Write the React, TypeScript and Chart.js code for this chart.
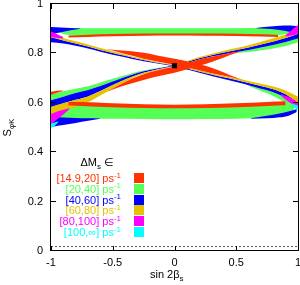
import React, { useEffect, useRef } from 'react';
import { Chart, registerables } from 'chart.js';
Chart.register(...registerables);

// ---- axes ----
const xTicks = [-1, -0.5, 0, 0.5, 1];
const xTickLabels = ['-1', '-0.5', '0', '0.5', '1'];
const yTicks = [0, 0.2, 0.4, 0.6, 0.8, 1];
const yTickLabels = ['0', '0.2', '0.4', '0.6', '0.8', '1'];

// ---- legend ----
const legendRanges = ['[14.9,20]', '[20,40]', '[40,60]', '[60,80]', '[80,100]', '[100,\u221e]'];
const RED = '#ff3300';
const GREEN = '#55ff55';
const BLUE = '#0000ff';
const YELLOW = '#e6c300';
const MAGENTA = '#ff00ff';
const CYAN = '#00ffff';
const legendColors = [RED, GREEN, BLUE, YELLOW, MAGENTA, CYAN];

// ---- reference marks ----
const refLineX = [-1, 1];
const refLineY = [0.018, 0.018];
const smPointX = [0];
const smPointY = [0.75];

// ---- top horizontal band ----
const topBandX = [-0.93, -0.85, -0.7, -0.5, -0.25, 0, 0.25, 0.5, 0.7, 0.85, 0.95];
const topGreenHi = [0.897, 0.901, 0.902, 0.902, 0.902, 0.902, 0.902, 0.902, 0.903, 0.903, 0.898];
const topGreenLo = [0.884, 0.874, 0.871, 0.872, 0.873, 0.873, 0.873, 0.872, 0.871, 0.874, 0.884];
const topRedX = [-0.86, -0.7, -0.5, -0.25, 0, 0.25, 0.5, 0.7, 0.84];
const topRedHi = [0.872, 0.876, 0.879, 0.881, 0.881, 0.881, 0.88, 0.878, 0.875];
const topRedLo = [0.864, 0.866, 0.869, 0.871, 0.872, 0.871, 0.87, 0.868, 0.866];

// ---- bottom horizontal band ----
const botBandX = [-0.97, -0.9, -0.75, -0.5, -0.25, 0, 0.25, 0.5, 0.75, 0.9, 0.97];
const botGreenHi = [0.595, 0.598, 0.598, 0.594, 0.59, 0.59, 0.59, 0.594, 0.598, 0.6, 0.6];
const botGreenLo = [0.52, 0.527, 0.533, 0.535, 0.534, 0.533, 0.534, 0.535, 0.54, 0.55, 0.565];
const botRedX = [-0.86, -0.75, -0.5, -0.25, 0, 0.25, 0.5, 0.75, 0.9];
const botRedHi = [0.603, 0.603, 0.598, 0.594, 0.592, 0.594, 0.598, 0.603, 0.606];
const botRedLo = [0.59, 0.587, 0.582, 0.579, 0.578, 0.579, 0.582, 0.587, 0.59];

// ---- blue wedges at the band ends ----
const tlBlueX = [-1, -0.92, -0.84, -0.76];
const tlBlueHi = [0.907, 0.905, 0.903, 0.901];
const tlBlueLo = [0.878, 0.886, 0.894, 0.9];
const trBlueX = [0.66, 0.75, 0.85, 0.93, 1];
const trBlueHi = [0.903, 0.908, 0.912, 0.913, 0.91];
const trBlueLo = [0.902, 0.9, 0.895, 0.888, 0.878];
const blBlueX = [-0.99, -0.9, -0.8, -0.7, -0.6];
const blBlueHi = [0.545, 0.54, 0.538, 0.537, 0.536];
const blBlueLo = [0.503, 0.51, 0.518, 0.527, 0.535];
const brBlueX = [0.62, 0.75, 0.85, 0.93, 0.99];
const brBlueHi = [0.537, 0.548, 0.557, 0.566, 0.575];
const brBlueLo = [0.535, 0.537, 0.541, 0.549, 0.563];

// ---- ascending branch, left half ----
const alX = [-1, -0.9, -0.8, -0.7, -0.6, -0.5, -0.4, -0.3, -0.2, -0.1, 0];
const alGreenHi = [0.635, 0.647, 0.657, 0.667, 0.682, 0.697, 0.712, 0.726, 0.736, 0.744, 0.752];
const alBlueHi = [0.61, 0.625, 0.64, 0.652, 0.668, 0.686, 0.704, 0.721, 0.733, 0.742, 0.751];
const alYellowHi = [0.583, 0.598, 0.612, 0.626, 0.648, 0.672, 0.694, 0.714, 0.728, 0.739, 0.749];
const alYellowLo = [0.55, 0.565, 0.585, 0.603, 0.63, 0.658, 0.684, 0.708, 0.724, 0.736, 0.747];

// ---- ascending branch, right half ----
const arX = [0, 0.1, 0.2, 0.3, 0.4, 0.5, 0.6, 0.7, 0.8, 0.9, 1];
const arYellowHi = [0.753, 0.769, 0.785, 0.799, 0.811, 0.822, 0.833, 0.847, 0.861, 0.877, 0.897];
const arLine = [0.75, 0.765, 0.78, 0.793, 0.804, 0.814, 0.824, 0.836, 0.848, 0.862, 0.88];
const arBlueLo = [0.747, 0.761, 0.775, 0.787, 0.797, 0.806, 0.814, 0.824, 0.834, 0.846, 0.86];
const arGreenX = [0.5, 0.6, 0.7, 0.8, 0.9, 1];
const arGreenHi = [0.806, 0.814, 0.824, 0.834, 0.846, 0.86];
const arGreenLo = [0.803, 0.806, 0.813, 0.82, 0.83, 0.845];

// ---- descending branch, left half ----
const dlX = [-1, -0.9, -0.8, -0.7, -0.6, -0.5, -0.4, -0.3, -0.2, -0.1, 0];
const dlYellowHi = [0.885, 0.862, 0.849, 0.836, 0.822, 0.809, 0.796, 0.783, 0.772, 0.762, 0.753];
const dlLine = [0.865, 0.852, 0.84, 0.828, 0.814, 0.802, 0.79, 0.778, 0.768, 0.759, 0.75];
const dlBlueLo = [0.845, 0.84, 0.831, 0.82, 0.807, 0.795, 0.784, 0.773, 0.764, 0.756, 0.747];

// ---- descending branch, right half ----
const drX = [0, 0.1, 0.2, 0.3, 0.4, 0.5, 0.6, 0.7, 0.8, 0.9, 1];
const drYellowHi = [0.753, 0.743, 0.732, 0.72, 0.709, 0.699, 0.688, 0.677, 0.666, 0.65, 0.625];
const drLine = [0.75, 0.739, 0.727, 0.715, 0.703, 0.692, 0.68, 0.668, 0.655, 0.635, 0.6];
const drBlueLo = [0.747, 0.735, 0.722, 0.709, 0.696, 0.684, 0.671, 0.657, 0.643, 0.62, 0.585];
const drGreenX = [0.6, 0.7, 0.8, 0.9, 1];
const drGreenHi = [0.671, 0.657, 0.643, 0.62, 0.585];
const drGreenLo = [0.668, 0.648, 0.628, 0.6, 0.572];

// ---- red crossing (smallest Delta M_s) ----
const bowX = [-0.55, -0.45, -0.35, -0.25, -0.15, 0, 0.15, 0.25, 0.35, 0.45, 0.55];
const bowDHi = [0.8175, 0.8125, 0.809, 0.8025, 0.793, 0.778, 0.7625, 0.75, 0.7325, 0.712, 0.6935];
const bowDLo = [0.8175, 0.8045, 0.791, 0.7785, 0.768, 0.753, 0.7375, 0.726, 0.7145, 0.704, 0.6935];
const bowAHi = [0.644, 0.671, 0.696, 0.716, 0.73, 0.747, 0.768, 0.781, 0.792, 0.8015, 0.81];
const bowALo = [0.644, 0.663, 0.678, 0.692, 0.705, 0.722, 0.743, 0.757, 0.774, 0.7935, 0.81];
const redSliverX = [-1, -0.95, -0.9];
const redSliverHi = [0.645, 0.649, 0.65];
const redSliverLo = [0.633, 0.641, 0.648];

// ---- tips ----
const tlMagX = [-1, -0.95, -0.9];
const tlMagHi = [0.889, 0.878, 0.866];
const tlMagLo = [0.866, 0.862, 0.86];
const trMagX = [0.9, 0.95, 1];
const trMagHi = [0.874, 0.895, 0.915];
const trMagLo = [0.868, 0.872, 0.88];
const blMagX = [-1, -0.95, -0.9, -0.85];
const blMagHi = [0.555, 0.565, 0.572, 0.578];
const blMagLo = [0.51, 0.533, 0.553, 0.574];
const brMagX = [0.86, 0.92, 0.97, 1];
const brMagHi = [0.635, 0.625, 0.612, 0.6];
const brMagLo = [0.63, 0.605, 0.59, 0.582];
const blCyanX = [-1, -0.97, -0.94];
const blCyanHi = [0.515, 0.52, 0.525];
const blCyanLo = [0.498, 0.507, 0.522];
const brCyanX = [0.95, 0.98, 1];
const brCyanHi = [0.597, 0.592, 0.59];
const brCyanLo = [0.59, 0.578, 0.572];

type Layer = { c: string; x: number[]; lo: number[]; hi: number[] };

// drawn bottom -> top
const layers: Layer[] = [
  { c: GREEN, x: topBandX, lo: topGreenLo, hi: topGreenHi },
  { c: GREEN, x: botBandX, lo: botGreenLo, hi: botGreenHi },
  { c: GREEN, x: alX, lo: alBlueHi, hi: alGreenHi },
  { c: GREEN, x: arGreenX, lo: arGreenLo, hi: arGreenHi },
  { c: GREEN, x: drGreenX, lo: drGreenLo, hi: drGreenHi },
  { c: BLUE, x: tlBlueX, lo: tlBlueLo, hi: tlBlueHi },
  { c: BLUE, x: trBlueX, lo: trBlueLo, hi: trBlueHi },
  { c: BLUE, x: blBlueX, lo: blBlueLo, hi: blBlueHi },
  { c: BLUE, x: brBlueX, lo: brBlueLo, hi: brBlueHi },
  { c: BLUE, x: alX, lo: alYellowHi, hi: alBlueHi },
  { c: BLUE, x: arX, lo: arBlueLo, hi: arLine },
  { c: BLUE, x: dlX, lo: dlBlueLo, hi: dlLine },
  { c: BLUE, x: drX, lo: drBlueLo, hi: drLine },
  { c: YELLOW, x: alX, lo: alYellowLo, hi: alYellowHi },
  { c: YELLOW, x: arX, lo: arLine, hi: arYellowHi },
  { c: YELLOW, x: dlX, lo: dlLine, hi: dlYellowHi },
  { c: YELLOW, x: drX, lo: drLine, hi: drYellowHi },
  { c: RED, x: topRedX, lo: topRedLo, hi: topRedHi },
  { c: RED, x: botRedX, lo: botRedLo, hi: botRedHi },
  { c: RED, x: bowX, lo: bowDLo, hi: bowDHi },
  { c: RED, x: bowX, lo: bowALo, hi: bowAHi },
  { c: RED, x: redSliverX, lo: redSliverLo, hi: redSliverHi },
  { c: MAGENTA, x: tlMagX, lo: tlMagLo, hi: tlMagHi },
  { c: MAGENTA, x: trMagX, lo: trMagLo, hi: trMagHi },
  { c: MAGENTA, x: blMagX, lo: blMagLo, hi: blMagHi },
  { c: MAGENTA, x: brMagX, lo: brMagLo, hi: brMagHi },
  { c: CYAN, x: blCyanX, lo: blCyanLo, hi: blCyanHi },
  { c: CYAN, x: brCyanX, lo: brCyanLo, hi: brCyanHi },
];

const FONT = '"Liberation Sans", "DejaVu Sans", Arial, sans-serif';
type Part = { t: string; k?: 'sub' | 'sup' };

function drawRich(ctx: CanvasRenderingContext2D, parts: Part[], x: number, y: number, align: 'left' | 'center' | 'right', color: string, size = 11) {
  const small = Math.round(size * 0.73);
  ctx.save();
  ctx.fillStyle = color;
  ctx.textAlign = 'left';
  ctx.textBaseline = 'alphabetic';
  let w = 0;
  for (const p of parts) {
    ctx.font = `${p.k ? small : size}px ${FONT}`;
    w += ctx.measureText(p.t).width;
  }
  let cx = align === 'right' ? x - w : align === 'center' ? x - w / 2 : x;
  for (const p of parts) {
    ctx.font = `${p.k ? small : size}px ${FONT}`;
    const dy = p.k === 'sub' ? 3 : p.k === 'sup' ? -4.5 : 0;
    ctx.fillText(p.t, cx, y + dy);
    cx += ctx.measureText(p.t).width;
  }
  ctx.restore();
}

const decor = {
  id: 'decor',
  afterDatasetsDraw(chart: any) {
    const { ctx, chartArea: a, scales } = chart;
    const sx = scales.x;
    const sy = scales.y;
    ctx.save();
    ctx.strokeStyle = '#000';
    ctx.lineWidth = 1;
    ctx.beginPath();
    for (const v of xTicks) {
      const px = Math.round(sx.getPixelForValue(v)) + 0.5;
      ctx.moveTo(px, a.bottom);
      ctx.lineTo(px, a.bottom - 5);
      ctx.moveTo(px, a.top);
      ctx.lineTo(px, a.top + 5);
    }
    for (const v of yTicks) {
      const py = Math.round(sy.getPixelForValue(v)) - 0.5;
      ctx.moveTo(a.left, py);
      ctx.lineTo(a.left + 5, py);
      ctx.moveTo(a.right, py);
      ctx.lineTo(a.right - 5, py);
    }
    ctx.stroke();
    ctx.strokeRect(Math.round(a.left) - 0.5, Math.round(a.top) - 0.5, Math.round(a.right - a.left) + 1, Math.round(a.bottom - a.top));
    ctx.restore();

    // legend
    drawRich(ctx, [{ t: '\u0394M' }, { t: 's', k: 'sub' }, { t: ' \u2208' }], a.left + 46, a.top + 162, 'center', '#000');
    legendRanges.forEach((r, i) => {
      const rowTop = a.top + 169 + i * 10.8;
      drawRich(ctx, [{ t: r + ' ps' }, { t: '-1', k: 'sup' }], a.left + 70, rowTop + 9, 'right', legendColors[i]);
      ctx.fillStyle = legendColors[i];
      ctx.fillRect(a.left + 83, Math.round(rowTop), 10, 10);
    });

    // axis titles
    drawRich(ctx, [{ t: 'sin 2\u03b2' }, { t: 's', k: 'sub' }], a.left + 99, 277.5, 'left', '#000');
    ctx.save();
    ctx.translate(11, (a.top + a.bottom) / 2);
    ctx.rotate(-Math.PI / 2);
    drawRich(ctx, [{ t: 'S' }, { t: '\u03c6K', k: 'sub' }], 0, 0, 'center', '#000');
    ctx.restore();
  },
};

function noPad(s: any) {
  s.paddingTop = 0;
  s.paddingBottom = 0;
  s.paddingLeft = 0;
  s.paddingRight = 0;
}

export default function App() {
  const ref = useRef<HTMLCanvasElement>(null);
  useEffect(() => {
    const canvas = ref.current;
    if (!canvas) return;
    const datasets: any[] = [];
    datasets.push({
      data: smPointX.map((x, i) => ({ x, y: smPointY[i] })),
      showLine: false,
      pointStyle: 'rect',
      pointRadius: 3.6,
      hoverRadius: 0,
      backgroundColor: '#000',
      borderWidth: 0,
    });
    datasets.push({
      data: refLineX.map((x, i) => ({ x, y: refLineY[i] })),
      showLine: true,
      borderColor: '#555',
      borderWidth: 1,
      borderDash: [2, 2],
      pointRadius: 0,
      hoverRadius: 0,
      fill: false,
    });
    for (const l of [...layers].reverse()) {
      datasets.push({
        data: l.x.map((x, i) => ({ x, y: l.lo[i] })),
        showLine: true,
        borderWidth: 0,
        pointRadius: 0,
        hoverRadius: 0,
        fill: false,
        cubicInterpolationMode: 'monotone',
      });
      datasets.push({
        data: l.x.map((x, i) => ({ x, y: l.hi[i] })),
        showLine: true,
        borderWidth: 0,
        pointRadius: 0,
        hoverRadius: 0,
        fill: '-1',
        backgroundColor: l.c,
        cubicInterpolationMode: 'monotone',
      });
    }
    const chart = new Chart(canvas, {
      type: 'scatter',
      data: { datasets },
      options: {
        animation: false,
        responsive: false,
        devicePixelRatio: 1,
        events: [],
        layout: { padding: { top: 4, right: 2, left: 0, bottom: 0 }, autoPadding: false } as any,
        plugins: { legend: { display: false }, tooltip: { enabled: false } },
        scales: {
          x: {
            type: 'linear',
            min: -1,
            max: 1,
            afterBuildTicks: (s: any) => { s.ticks = xTicks.map((v) => ({ value: v })); },
            afterFit: (s: any) => { s.height = 34; noPad(s); },
            ticks: {
              callback: (_v: any, i: number) => xTickLabels[i],
              padding: 5,
              maxRotation: 0,
              autoSkip: false,
              color: '#000',
              font: { family: FONT, size: 11 },
            },
            grid: { display: false, drawTicks: false },
            border: { display: false },
          },
          y: {
            type: 'linear',
            min: 0,
            max: 1,
            afterBuildTicks: (s: any) => { s.ticks = yTicks.map((v) => ({ value: v })); },
            afterFit: (s: any) => { s.width = 51; noPad(s); },
            ticks: {
              callback: (_v: any, i: number) => yTickLabels[i],
              padding: 8,
              autoSkip: false,
              color: '#000',
              font: { family: FONT, size: 11 },
            },
            grid: { display: false, drawTicks: false },
            border: { display: false },
          },
        },
      },
      plugins: [decor],
    });
    return () => chart.destroy();
  }, []);
  return (
    <div style={{ position: 'fixed', left: 0, top: 0, width: 300, height: 285, background: '#fff' }}>
      <canvas ref={ref} width={300} height={285} style={{ display: 'block', width: 300, height: 285 }} />
    </div>
  );
}
